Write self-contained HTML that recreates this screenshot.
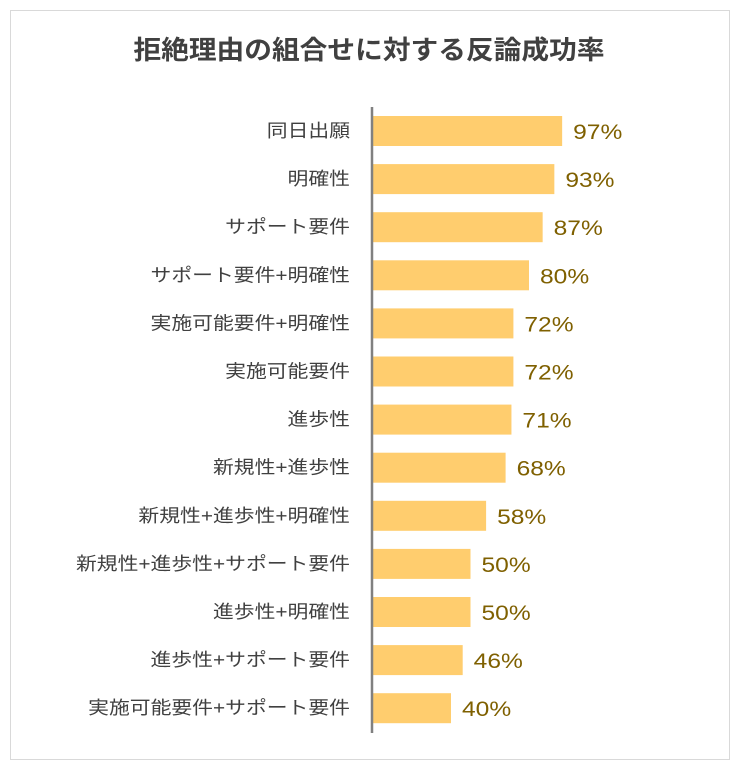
<!DOCTYPE html>
<html><head><meta charset="utf-8"><style>
body{margin:0;background:#fff;}
svg text{font-family:"Liberation Sans","Noto Sans CJK JP",sans-serif;}
</style></head><body>
<svg id="sv" width="738" height="768" xmlns="http://www.w3.org/2000/svg">
<rect x="10.5" y="10.5" width="719" height="749" fill="#fff" stroke="#d9d9d9" stroke-width="1"/>
<text id="title" x="369" y="59" text-anchor="middle" font-size="26" font-weight="bold" fill="#404040">拒絶理由の組合せに対する反論成功率</text>
<g id="bars"></g>
<line x1="372" y1="107" x2="372" y2="733" stroke="#808080" stroke-width="2.5"/>
</svg>
<script>
var d=[["同日出願",97],["明確性",93],["サポート要件",87],["サポート要件+明確性",80],["実施可能要件+明確性",72],["実施可能要件",72],["進歩性",71],["新規性+進歩性",68],["新規性+進歩性+明確性",58],["新規性+進歩性+サポート要件",50],["進歩性+明確性",50],["進歩性+サポート要件",46],["実施可能要件+サポート要件",40]];
var g=document.getElementById("bars"),s="";
d.forEach(function(r,i){var cy=131+i*48.1,w=r[1]*1.95;
s+='<rect x="373" y="'+(cy-15)+'" width="'+w+'" height="30" fill="#FFCD6E"/>';
s+='<text class="lb" x="350" y="'+(cy+6)+'" text-anchor="end" font-size="18" fill="#404040">'+r[0]+'</text>';
s+='<text class="vl" x="'+(373+w+11)+'" y="'+(cy+8)+'" font-size="21" fill="#7F6000">'+r[1]+'%</text>';});
g.innerHTML=s;
function st(el,f){var l=el.getComputedTextLength();el.setAttribute("textLength",l*f);el.setAttribute("lengthAdjust","spacingAndGlyphs");}
document.querySelectorAll(".lb").forEach(function(e){st(e,1.156);});
document.querySelectorAll(".vl").forEach(function(e){st(e,1.17);});
st(document.getElementById("title"),1.066);
</script>
</body></html>
